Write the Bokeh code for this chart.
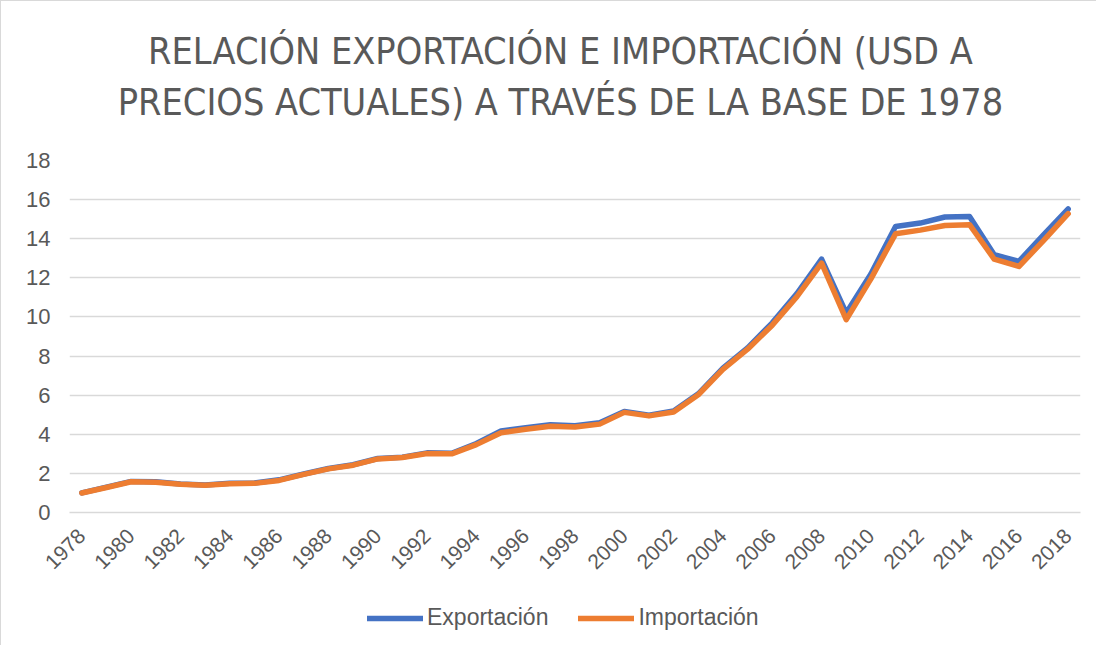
from bokeh.plotting import figure
from bokeh.models import Range1d, FixedTicker, Legend, LegendItem, Label
from bokeh.layouts import column
from bokeh.embed import file_html
from bokeh.resources import INLINE

years = [1978, 1979, 1980, 1981, 1982, 1983, 1984, 1985, 1986, 1987,
         1988, 1989, 1990, 1991, 1992, 1993, 1994, 1995, 1996, 1997,
         1998, 1999, 2000, 2001, 2002, 2003, 2004, 2005, 2006, 2007,
         2008, 2009, 2010, 2011, 2012, 2013, 2014, 2015, 2016, 2017, 2018]

exportacion = [1.00, 1.30, 1.59, 1.57, 1.46, 1.41, 1.49, 1.51, 1.67, 1.97,
               2.25, 2.44, 2.76, 2.83, 3.05, 3.03, 3.53, 4.17, 4.34, 4.49,
               4.44, 4.59, 5.17, 4.98, 5.19, 6.07, 7.38, 8.42, 9.70, 11.20,
               12.96, 10.20, 12.20, 14.63, 14.80, 15.11, 15.14, 13.18, 12.84, 14.20, 15.52]

importacion = [1.00, 1.28, 1.57, 1.55, 1.44, 1.39, 1.47, 1.49, 1.64, 1.95,
               2.23, 2.42, 2.74, 2.81, 3.02, 3.00, 3.47, 4.08, 4.26, 4.41,
               4.37, 4.52, 5.12, 4.94, 5.14, 6.02, 7.32, 8.35, 9.58, 11.04,
               12.75, 9.86, 11.95, 14.25, 14.44, 14.68, 14.72, 12.96, 12.58, 13.90, 15.28]

series_names = ["Exportación", "Importación"]
series_colors = ["#4472C4", "#ED7D31"]
series_values = [exportacion, importacion]

tick_years = [1978, 1980, 1982, 1984, 1986, 1988, 1990, 1992, 1994, 1996, 1998,
              2000, 2002, 2004, 2006, 2008, 2010, 2012, 2014, 2016, 2018]
tick_labels = ["1978", "1980", "1982", "1984", "1986", "1988", "1990", "1992", "1994",
               "1996", "1998", "2000", "2002", "2004", "2006", "2008", "2010", "2012",
               "2014", "2016", "2018"]
y_ticks = [0, 2, 4, 6, 8, 10, 12, 14, 16, 18]

title_lines = ["RELACIÓN EXPORTACIÓN E IMPORTACIÓN (USD A",
               "PRECIOS ACTUALES) A TRAVÉS DE LA BASE DE 1978"]

TXT = "#595959"
GRID = "#d9d9d9"
W = 1096
BORDER_L = 68
BORDER_R = 17

# ---------- header (title) ----------
HEAD_H = 149
h = figure(width=W, height=HEAD_H, output_backend="svg", toolbar_location=None,
           x_range=Range1d(BORDER_L, W - BORDER_R), y_range=Range1d(HEAD_H, 0),
           min_border_left=BORDER_L, min_border_right=BORDER_R,
           min_border_top=0, min_border_bottom=0)
h.styles = {"border-left": "1px solid #d9d9d9", "border-top": "1px solid #d9d9d9"}
h.outline_line_color = None
h.axis.visible = False
h.grid.visible = False
h.border_fill_color = "white"
for txt, ypos in zip(title_lines, [49, 100]):
    h.add_layout(Label(x=559, y=ypos, text=txt, text_align="center",
                       text_baseline="middle", text_font="DejaVu Sans Condensed",
                       text_font_size="37.5px", text_color=TXT))

# ---------- main chart ----------
p = figure(width=W, height=441, output_backend="svg", toolbar_location=None,
           x_range=Range1d(1977.5, 2018.5), y_range=Range1d(0, 18),
           min_border_left=BORDER_L, min_border_right=BORDER_R, min_border_top=11,
           min_border_bottom=78)
p.styles = {"border-left": "1px solid #d9d9d9"}
p.outline_line_color = None
p.background_fill_color = "white"
p.border_fill_color = "white"
p.title.visible = False

p.xgrid.grid_line_color = None
p.ygrid.grid_line_color = GRID
p.ygrid.grid_line_width = 1.4

p.yaxis.ticker = FixedTicker(ticks=y_ticks)
p.yaxis.axis_line_color = None
p.yaxis.major_tick_line_color = None
p.yaxis.minor_tick_line_color = None
p.yaxis.major_label_standoff = 13
p.yaxis.major_label_text_font = "Liberation Sans"
p.yaxis.major_label_text_font_size = "22px"
p.yaxis.major_label_text_color = TXT

p.xaxis.ticker = FixedTicker(ticks=tick_years)
p.xaxis.major_label_overrides = dict(zip(tick_years, tick_labels))
p.xaxis.major_label_orientation = 0.7854
p.xaxis.axis_line_color = GRID
p.xaxis.axis_line_width = 1.4
p.xaxis.major_tick_line_color = None
p.xaxis.minor_tick_line_color = None
p.xaxis.major_label_standoff = 14
p.xaxis.major_label_text_font = "Liberation Sans"
p.xaxis.major_label_text_font_size = "21px"
p.xaxis.major_label_text_color = TXT

for vals, c in zip(series_values, series_colors):
    p.line(years, vals, line_color=c, line_width=5.5, line_join="round", line_cap="round")

# ---------- legend strip ----------
q = figure(width=W, height=55, output_backend="svg", toolbar_location=None,
           x_range=Range1d(0, 1), y_range=Range1d(0, 1),
           min_border_left=BORDER_L, min_border_right=BORDER_R,
           min_border_top=0, min_border_bottom=0)
q.styles = {"border-left": "1px solid #d9d9d9"}
q.outline_line_color = None
q.axis.visible = False
q.grid.visible = False
q.border_fill_color = "white"
# same series, outside this strip's ranges: only their legend samples show
leg_renderers = [q.line(years, vals, line_color=c, line_width=5.5, line_cap="round")
                 for vals, c in zip(series_values, series_colors)]
legend = Legend(items=[LegendItem(label=n, renderers=[r])
                       for n, r in zip(series_names, leg_renderers)],
                orientation="horizontal", location=(298, 14),
                border_line_color=None, background_fill_alpha=0,
                label_text_font="Liberation Sans", label_text_font_size="23px",
                label_text_color=TXT, glyph_width=56, glyph_height=20,
                label_standoff=4, spacing=30, padding=0, margin=0)
q.add_layout(legend, "center")

layout = column(h, p, q, spacing=0)
open("out.html", "w").write(file_html(layout, INLINE))
